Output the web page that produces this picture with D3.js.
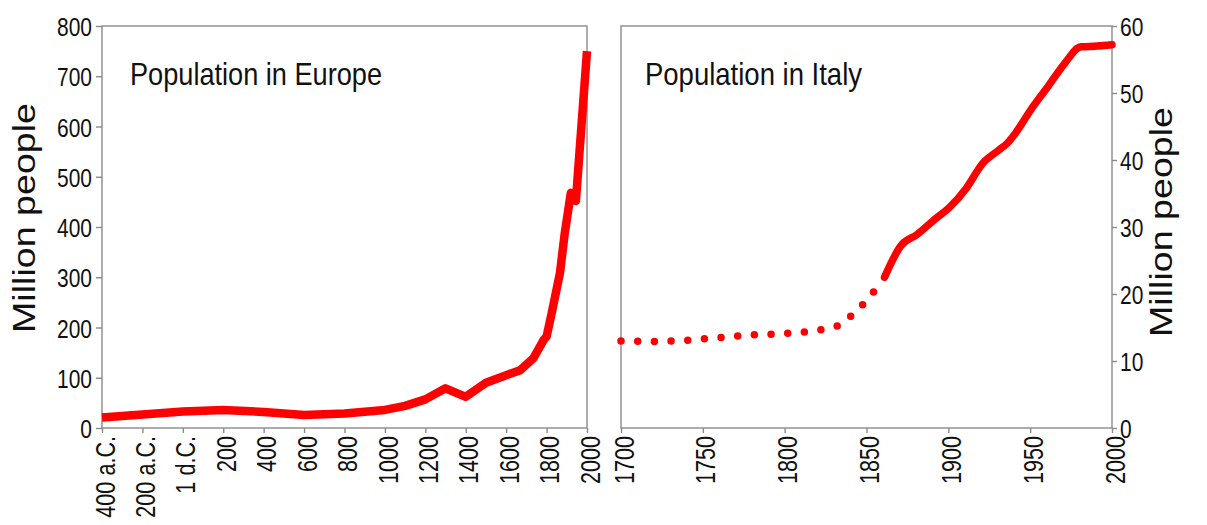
<!DOCTYPE html>
<html><head><meta charset="utf-8">
<script src="https://cdn.jsdelivr.net/npm/d3@7"></script>
<style>
body{margin:0;background:#fff}
svg{display:block}
text{font-family:"Liberation Sans",Arial,sans-serif;fill:#111}
</style>
</head><body>
<svg id="c" width="1207" height="525"></svg>
<script>
// ---- data ----
const europeYears  = [-400,-200,0,200,400,600,800,1000,1100,1200,1300,1400,1500,1600,1670,1735,1785,1800,1825,1866,1890,1920,1945,2000];
const europeValues = [21,27,33,36,32,26,29,36,44,57,79,62,90,105,115,139,175,182,228,308,388,468,452,750];

const italyDotYears  = [1700,1720,1740,1760,1780,1800,1820,1832,1840,1848,1855];
const italyDotValues = [13.0,12.9,13.1,13.5,13.9,14.1,14.6,15.2,16.6,18.5,20.5];

const italyYears  = [1861,1871,1881,1891,1901,1911,1921,1931,1936,1941,1951,1961,1971,1981,1991,2000];
const italyValues = [22.5,27.2,28.9,31.0,33.0,35.8,39.5,41.5,42.5,44.0,47.7,51.0,54.4,56.9,57.0,57.2];

const europeTickYears  = [-400,-200,0,200,400,600,800,1000,1200,1400,1600,1800,2000];
const europeTickLabels = ["400 a.C.","200 a.C.","1 d.C.","200","400","600","800","1000","1200","1400","1600","1800","2000"];
const italyTickYears   = [1700,1750,1800,1850,1900,1950,2000];
const europeYTicks     = [0,100,200,300,400,500,600,700,800];
const italyYTicks      = [0,10,20,30,40,50,60];

const titleEurope = "Population in Europe";
const titleItaly  = "Population in Italy";
const yTitle      = "Million people";

// ---- layout ----
const svg = d3.select("#c");
const L = {x0:102, x1:587, y0:26, y1:428};
const R = {x0:621, x1:1112, y0:26, y1:428};
const axisColor = "#8a8a8a";
const red = "#ff0000";

const xE = d3.scaleLinear().domain([-400,2000]).range([L.x0,L.x1]);
const yE = d3.scaleLinear().domain([0,800]).range([L.y1,L.y0]);
const xI = d3.scaleLinear().domain([1700,2000]).range([R.x0,R.x1]);
const yI = d3.scaleLinear().domain([0,60]).range([R.y1,R.y0]);

function fit(sel, factor){
  sel.each(function(){
    const n = this.getComputedTextLength();
    this.setAttribute("textLength", n*factor);
    this.setAttribute("lengthAdjust","spacingAndGlyphs");
  });
}

// frames
[L,R].forEach(p=>{
  svg.append("rect").attr("x",p.x0).attr("y",p.y0)
    .attr("width",p.x1-p.x0).attr("height",p.y1-p.y0)
    .attr("fill","none").attr("stroke",axisColor).attr("stroke-width",1.4);
});

function styleAxis(g){
  g.select(".domain").remove();
  g.selectAll(".tick line").attr("stroke",axisColor).attr("stroke-width",1.4);
}

// left y axis
const gyl = svg.append("g").attr("transform",`translate(${L.x0},0)`)
  .call(d3.axisLeft(yE).tickValues(europeYTicks).tickSize(6).tickPadding(4));
styleAxis(gyl);
gyl.selectAll("text").attr("font-size","26.5px").attr("fill","#111").attr("dy","0.36em")
  .style("font-family","'Liberation Sans',Arial,sans-serif");
fit(gyl.selectAll("text"),0.79);

// right y axis
const gyr = svg.append("g").attr("transform",`translate(${R.x1},0)`)
  .call(d3.axisRight(yI).tickValues(italyYTicks).tickSize(5).tickPadding(3));
styleAxis(gyr);
gyr.selectAll("text").attr("font-size","26.5px").attr("fill","#111").attr("dy","0.36em")
  .style("font-family","'Liberation Sans',Arial,sans-serif");
fit(gyr.selectAll("text"),0.79);

// bottom axes
function bottomAxis(scale, vals, fmt){
  const g = svg.append("g").attr("transform",`translate(0,${L.y1})`)
    .call(d3.axisBottom(scale).tickValues(vals).tickFormat(fmt).tickSize(5));
  styleAxis(g);
  g.selectAll("text")
    .attr("transform","rotate(-90)")
    .attr("x",-8).attr("y",0).attr("dy","0.45em")
    .attr("text-anchor","end")
    .attr("font-size","27px").attr("fill","#111")
    .style("font-family","'Liberation Sans',Arial,sans-serif");
  fit(g.selectAll("text"),0.8);
}
bottomAxis(xE, europeTickYears, (d,i)=>europeTickLabels[i]);
bottomAxis(xI, italyTickYears, d=>String(d));

// y titles
svg.append("text").attr("transform","translate(35,218) rotate(-90)")
  .attr("text-anchor","middle").attr("font-size","32px")
  .attr("textLength",230).attr("lengthAdjust","spacingAndGlyphs").text(yTitle);
svg.append("text").attr("transform","translate(1172,222) rotate(-90)")
  .attr("text-anchor","middle").attr("font-size","32px")
  .attr("textLength",230).attr("lengthAdjust","spacingAndGlyphs").text(yTitle);

// panel titles
svg.append("text").attr("x",130).attr("y",85).attr("font-size","32px")
  .attr("textLength",252).attr("lengthAdjust","spacingAndGlyphs").text(titleEurope);
svg.append("text").attr("x",645).attr("y",85).attr("font-size","32px")
  .attr("textLength",217).attr("lengthAdjust","spacingAndGlyphs").text(titleItaly);

// europe line
const europeData = europeYears.map((y,i)=>[y,europeValues[i]]);
svg.append("path").datum(europeData)
  .attr("d", d3.line().x(d=>xE(d[0])).y(d=>yE(d[1])))
  .attr("fill","none").attr("stroke",red).attr("stroke-width",8.5)
  .attr("stroke-linecap","butt").attr("stroke-linejoin","round");

// italy dotted
const dotData = italyDotYears.map((y,i)=>[y,italyDotValues[i]]);
svg.append("path").datum(dotData)
  .attr("d", d3.line().curve(d3.curveMonotoneX).x(d=>xI(d[0])).y(d=>yI(d[1])))
  .attr("fill","none").attr("stroke",red).attr("stroke-width",7.5)
  .attr("stroke-linecap","round").attr("stroke-dasharray","0 16.7");

// italy solid
const itData = italyYears.map((y,i)=>[y,italyValues[i]]);
svg.append("path").datum(itData)
  .attr("d", d3.line().curve(d3.curveMonotoneX).x(d=>xI(d[0])).y(d=>yI(d[1])))
  .attr("fill","none").attr("stroke",red).attr("stroke-width",7.5)
  .attr("stroke-linecap","round").attr("stroke-linejoin","round");
</script>
</body></html>
